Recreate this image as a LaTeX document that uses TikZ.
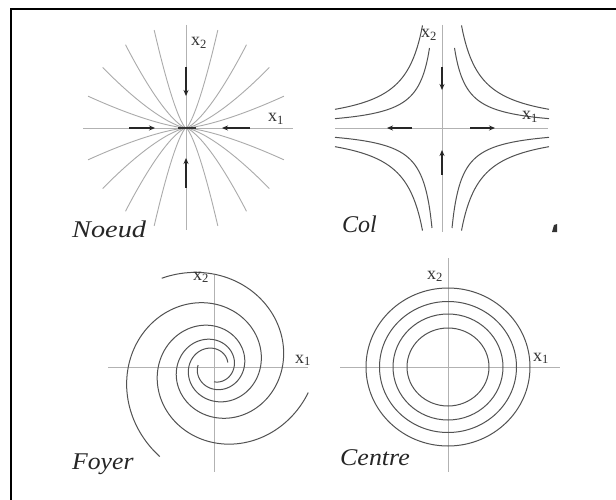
\documentclass[tikz,border=0pt]{standalone}
\usepackage{fontspec}
\setmainfont{Liberation Serif}
\usetikzlibrary{arrows.meta}
\begin{document}
\begin{tikzpicture}[x=1pt,y=-1pt,
  axis/.style={draw=black!30, line width=0.8pt},
  traj/.style={draw=black!33, line width=0.9pt},
  curve/.style={draw=black!68, line width=1pt},
  flow/.style={draw=black!85, line width=1.5pt, -{Stealth[length=6pt,width=5pt]}},
  lab/.style={font=\fontsize{18}{20}\selectfont, inner sep=0pt, anchor=base west, text=black!80},
  ttl/.style={font=\fontsize{24}{28}\selectfont\itshape, inner sep=0pt, anchor=base west, text=black!85},
  frame/.style={draw=black, line width=2.5pt}]
\useasboundingbox (0,0) rectangle (616,500);
\fill[white] (0,0) rectangle (616,500);
\draw[frame] (11,501) -- (11,9) -- (617,9);

% ---------------- Noeud ----------------
\begin{scope}[shift={(186,128)}]
  \draw[axis] (0,-103) -- (0,102);
  \draw[axis] (-103,0) -- (107,0);
  \foreach \a in {18,36,54,72}{
    \foreach \sx/\sy in {1/1,1/-1,-1/1,-1/-1}{
      \draw[traj] plot[domain=0.004:1, samples=40, smooth]
        ({\sx*103*cos(\a)*\x},{\sy*103*sin(\a)*(\x)^1.4});
    }
  }
\end{scope}
\coordinate (nd1) at (186,67);  \coordinate (nd2) at (186,96);
\coordinate (nu1) at (186,188); \coordinate (nu2) at (186,158);
\coordinate (nr1) at (129,128); \coordinate (nr2) at (155,128);
\coordinate (nl1) at (250,128); \coordinate (nl2) at (222,128);
\coordinate (nc1) at (178,128); \coordinate (nc2) at (196,128);
\draw[flow] (nd1) -- (nd2);
\draw[flow] (nu1) -- (nu2);
\draw[flow] (nr1) -- (nr2);
\draw[flow] (nl1) -- (nl2);
\draw[black!80, line width=2pt] (nc1) -- (nc2);
\node[lab] (nx2) at (191,46) {x\textsubscript{2}};
\node[lab] (nx1) at (268,122) {x\textsubscript{1}};
\node[ttl] (noeud) at (72,237) {\scalebox{1.18}[1]{Noeud}};

% ---------------- Col ----------------
\begin{scope}[shift={(442,128)}]
  \draw[axis] (0,-103) -- (0,104);
  \draw[axis] (-107,0) -- (106,0);
  % inner hyperbolas
  \draw[curve] plot[domain=-107:-12.5, samples=60, smooth] (\x,{1000/\x});
  \draw[curve] plot[domain=12.5:107, samples=60, smooth] (\x,{-1000/\x});
  \draw[curve] plot[domain=-107:-10, samples=60, smooth] (\x,{-1000/\x});
  \draw[curve] plot[domain=10:107, samples=60, smooth] (\x,{1000/\x});
  % outer hyperbolas
  \draw[curve] plot[domain=-107:-19.5, samples=60, smooth] (\x,{2000/\x});
  \draw[curve] plot[domain=19.5:107, samples=60, smooth] (\x,{-2000/\x});
  \draw[curve] plot[domain=-107:-19.5, samples=60, smooth] (\x,{-2000/\x});
  \draw[curve] plot[domain=19.5:107, samples=60, smooth] (\x,{2000/\x});
\end{scope}
\coordinate (cd1) at (442,67);  \coordinate (cd2) at (442,90);
\coordinate (cu1) at (442,175); \coordinate (cu2) at (442,150);
\coordinate (cl1) at (412,128); \coordinate (cl2) at (387,128);
\coordinate (cr1) at (470,128); \coordinate (cr2) at (495,128);
\draw[flow] (cd1) -- (cd2);
\draw[flow] (cu1) -- (cu2);
\draw[flow] (cl1) -- (cl2);
\draw[flow] (cr1) -- (cr2);
\node[lab] (cx2) at (421,38) {x\textsubscript{2}};
\node[lab] (cx1) at (522,120) {x\textsubscript{1}};
\node[ttl] (col) at (342,233) {Col};
\fill[black!80] (554,225) -- (557,224) -- (557,232) -- (552,232) -- cycle;

% ---------------- Foyer ----------------
\begin{scope}[shift={(214,367)}]
  \draw[axis] (0,-92) -- (0,105);
  \draw[axis] (-106,0) -- (94,0);
  % three-armed logarithmic spiral, r = 103 * exp(0.0034 (t - t0))
  \draw[curve] plot[domain=-450:120.5, samples=260, smooth]
    ({103*exp(0.0034*(\x-120.5))*cos(\x)},{-103*exp(0.0034*(\x-120.5))*sin(\x)});
  \draw[curve] plot[domain=-342:238.8, samples=260, smooth]
    ({103*exp(0.0034*(\x-234))*cos(\x)},{-103*exp(0.0034*(\x-234))*sin(\x)});
  \draw[curve] plot[domain=-547:-15.2, samples=260, smooth]
    ({103*exp(0.0034*(\x-0.5))*cos(\x)},{-103*exp(0.0034*(\x-0.5))*sin(\x)});
\end{scope}
\node[lab] (fx2) at (193,280) {x\textsubscript{2}};
\node[lab] (fx1) at (295,363) {x\textsubscript{1}};
\node[ttl] (foyer) at (72,469) {\scalebox{1.07}[1]{Foyer}};

% ---------------- Centre ----------------
\begin{scope}[shift={(448,367)}]
  \draw[axis] (0,-109) -- (0,105);
  \draw[axis] (-108,0) -- (112,0);
  \draw[curve] (0,0) ellipse [x radius=82pt, y radius=79pt];
  \draw[curve] (0,0) ellipse [x radius=68.5pt, y radius=65.5pt];
  \draw[curve] (0,0) ellipse [x radius=55pt, y radius=53pt];
  \draw[curve] (0,0) ellipse [x radius=41pt, y radius=39pt];
\end{scope}
\node[lab] (ex2) at (427,279) {x\textsubscript{2}};
\node[lab] (ex1) at (533,361) {x\textsubscript{1}};
\node[ttl] (centre) at (340,465) {\scalebox{1.08}[1]{Centre}};
\end{tikzpicture}
\end{document}
